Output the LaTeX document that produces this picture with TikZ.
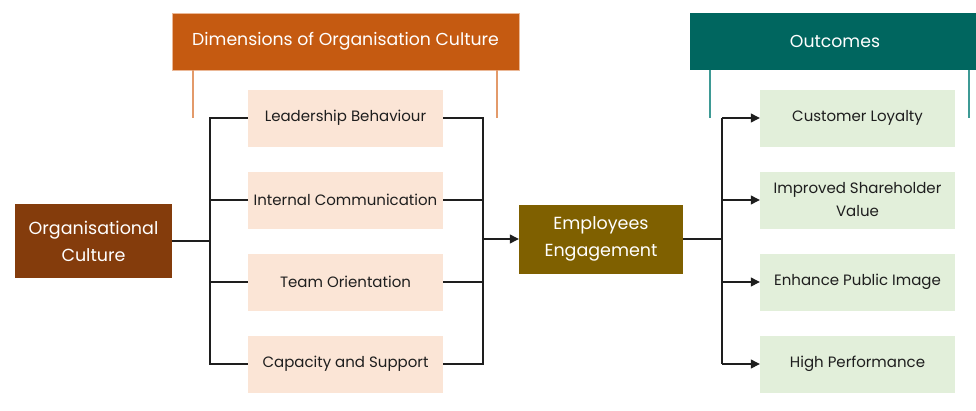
\documentclass[tikz,border=0pt]{standalone}
\usepackage{fontspec}
\setmainfont{Poppins}
\usetikzlibrary{arrows.meta}
\definecolor{hdrorange}{HTML}{C55A11}
\definecolor{hdrteal}{HTML}{00665F}
\definecolor{tickorange}{HTML}{E39A6A}
\definecolor{tickteal}{HTML}{3E9A95}
\definecolor{dimfill}{HTML}{FBE5D6}
\definecolor{outfill}{HTML}{E2EFDA}
\definecolor{rootfill}{HTML}{843C0C}
\definecolor{engfill}{HTML}{7F6000}
\definecolor{ink}{HTML}{1E1E1E}
\begin{document}
\begin{tikzpicture}[x=1pt,y=-1pt,
  header/.style={minimum width=#1, minimum height=57pt, inner sep=0pt,
    text=white, font=\fontsize{17.3}{20}\selectfont},
  item/.style={minimum width=195pt, minimum height=57pt, inner sep=2pt,
    text=ink, align=center, font=\fontsize{15}{23}\selectfont},
  hub/.style={minimum height=#1, inner sep=0pt, text=white, align=center,
    font=\fontsize{17.5}{27}\selectfont},
  wire/.style={draw=ink, line width=1.2pt},
  tip/.style={wire, -{Triangle[length=9pt,width=9pt]}},
  tick/.style={line width=1.2pt}]
\useasboundingbox (0,0) rectangle (976,410);

% headers
\node[header=347pt, fill=hdrorange, draw=tickorange!70!white] (hdim) at (345.5,41.5) {Dimensions of Organisation Culture};
\node[header=290pt, fill=hdrteal] (hout) at (835,41.5) {Outcomes};
\coordinate (tdA) at (193,118);
\coordinate (tdB) at (497,118);
\coordinate (toA) at (710,118);
\coordinate (toB) at (969,118);
\draw[tick, tickorange] (hdim.south -| tdA) -- (tdA);
\draw[tick, tickorange] (hdim.south -| tdB) -- (tdB);
\draw[tick, tickteal] (hout.south -| toA) -- (toA);
\draw[tick, tickteal] (hout.south -| toB) -- (toB);

% root and engagement
\node[hub=74pt, minimum width=157pt, fill=rootfill] (root) at (93.5,241) {Organisational\\Culture};
\node[hub=69pt, minimum width=164pt, fill=engfill] (eng) at (601,239) {Employees\\Engagement};

% dimensions
\node[item, fill=dimfill] (d1) at (345.5,118) {Leadership Behaviour};
\node[item, fill=dimfill] (d2) at (345.5,200) {Internal Communication};
\node[item, fill=dimfill] (d3) at (345.5,282) {Team Orientation};
\node[item, fill=dimfill] (d4) at (345.5,364) {Capacity and Support};

% outcomes
\node[item, fill=outfill] (o1) at (857.5,118) {Customer Loyalty};
\node[item, fill=outfill] (o2) at (857.5,200) {Improved Shareholder\\Value};
\node[item, fill=outfill] (o3) at (857.5,282) {Enhance Public Image};
\node[item, fill=outfill] (o4) at (857.5,364) {High Performance};

% spines
\coordinate (sl) at (210,241);
\coordinate (sr) at (483,241);
\coordinate (so) at (722,241);

% left bracket
\draw[wire] (d1.west) -- (d1.west -| sl) -- (d4.west -| sl) -- (d4.west);
\draw[wire] (d2.west) -- (d2.west -| sl);
\draw[wire] (d3.west) -- (d3.west -| sl);
\draw[wire] (root.east) -- (root.east -| sl);

% right bracket
\draw[wire] (d1.east) -- (d1.east -| sr) -- (d4.east -| sr) -- (d4.east);
\draw[wire] (d2.east) -- (d2.east -| sr);
\draw[wire] (d3.east) -- (d3.east -| sr);
\draw[tip] (eng.west -| sr) -- (eng.west);

% outcome fan
\draw[wire] (eng.east) -- (eng.east -| so);
\draw[wire] (o1.west -| so) -- (o4.west -| so);
\foreach \o in {o1,o2,o3,o4} \draw[tip] (\o.west -| so) -- (\o.west);
\end{tikzpicture}
\end{document}
